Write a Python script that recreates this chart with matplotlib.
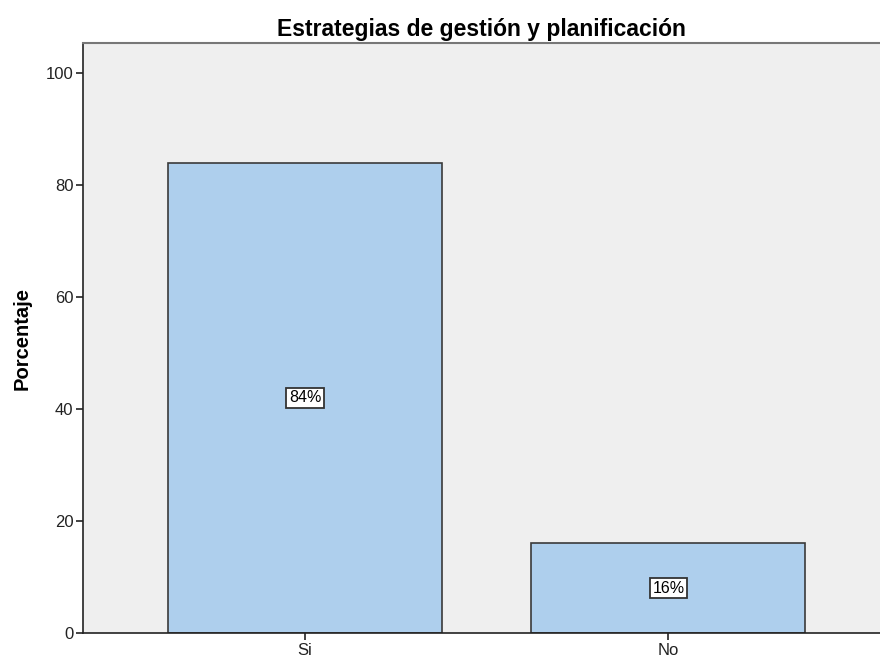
import matplotlib.pyplot as plt
import numpy as np

plt.rcParams['font.family'] = ['Liberation Sans', 'DejaVu Sans']

categories = ["Si", "No"]
percentages = [84, 16]
yticks = [0, 20, 40, 60, 80, 100]

fig = plt.figure(figsize=(8.8, 6.59), dpi=100)
ax = fig.add_axes([83 / 880, 26 / 659, 1 - 83 / 880, 590 / 659])
ax.set_facecolor("#efefef")

x = np.arange(len(categories))
ax.bar(x, percentages, width=0.754, color="#aecfed", edgecolor="#3a3a3a",
       linewidth=1.2, zorder=2)

# value boxes sit halfway up each bar
for xi, val in zip(x, percentages):
    ax.text(xi, val / 2, f"{val}%", ha="center", va="center", fontsize=11.5,
            bbox=dict(boxstyle="square,pad=0.15", facecolor="white",
                      edgecolor="#333333", linewidth=1.3), zorder=3)

ax.set_xlim(-0.611, 1.582)
ax.set_ylim(0, 105.4)
ax.set_xticks(x)
ax.set_xticklabels(categories, fontsize=12)
ax.set_yticks(yticks)
ax.tick_params(axis="y", labelsize=12, length=5, width=1.2, colors="#222222",
               pad=2)
ax.tick_params(axis="x", length=5, width=1.2, colors="#222222", pad=2)

ax.spines["right"].set_visible(False)
ax.spines["top"].set_color("#777777")
ax.spines["top"].set_linewidth(1.5)
for side in ("left", "bottom"):
    ax.spines[side].set_color("#222222")
    ax.spines[side].set_linewidth(1.2)

ax.set_ylabel("Porcentaje", fontsize=14.5, fontweight="bold", labelpad=10)
ax.set_title("Estrategias de gestión y planificación", fontsize=16.5,
             fontweight="bold", pad=5)

fig.savefig("out.png", dpi=100)
